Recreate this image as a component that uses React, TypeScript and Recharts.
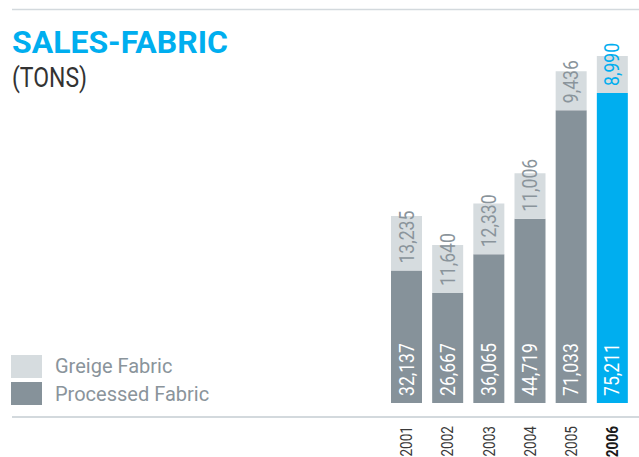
import { BarChart, Bar, XAxis, YAxis, Cell, LabelList } from "recharts";

const years = ["2001", "2002", "2003", "2004", "2005", "2006"];
const processed = [32137, 26667, 36065, 44719, 71033, 75211];
const greige = [13235, 11640, 12330, 11006, 9436, 8990];
const highlightYear = "2006";

const data = years.map((year, i) => ({
  year,
  processed: processed[i],
  greige: greige[i],
}));

const CYAN = "#00aeef";
const GREY = "#86929a";
const LIGHT = "#d6dcdf";
const LINE = "#d3d9dd";
const FONT = "Roboto, 'Open Sans', sans-serif";

const fmt = (v: number) => v.toLocaleString("en-US");

// rotated value label sitting at the bottom of its segment
function makeLabel(kind: "processed" | "greige") {
  return (props: any) => {
    const { x, y, width, height, value, index } = props;
    const hi = years[index] === highlightYear;
    const fill =
      kind === "processed" ? "#ffffff" : hi ? CYAN : "#8a949b";
    const fs = 20;
    const cx = Number(x) + Number(width) / 2;
    const by = Number(y) + Number(height) - 7;
    return (
      <text
        transform={`translate(${cx},${by}) rotate(-90) scale(0.88,1)`}
        x={0}
        y={fs * 0.355}
        fontSize={fs}
        fontFamily={FONT}
        fill={fill}
        textAnchor="start"
      >
        {fmt(Number(value))}
      </text>
    );
  };
}

function YearTick(props: any) {
  const { x, y, payload } = props;
  const hi = payload.value === highlightYear;
  const fs = 16;
  return (
    <text
      transform={`translate(${x},${Number(y) + 23}) rotate(-90) scale(0.85,1)`}
      x={0}
      y={fs * 0.355}
      fontSize={fs}
      fontFamily={FONT}
      fontWeight={hi ? 700 : 400}
      fill={hi ? "#1a1a1a" : "#3a3a3a"}
      textAnchor="end"
    >
      {payload.value}
    </text>
  );
}

export default function App() {
  return (
    <div
      style={{
        position: "absolute",
        left: 0,
        top: 0,
        width: 639,
        height: 457,
        background: "#fff",
        overflow: "hidden",
      }}
    >
      <BarChart
        width={639}
        height={457}
        data={data}
        margin={{ top: 32, right: 6, bottom: 14, left: 386 }}
      >
        <XAxis
          dataKey="year"
          axisLine={false}
          tickLine={false}
          tickSize={0}
          tickMargin={0}
          height={40}
          interval={0}
          tick={<YearTick />}
        />
        <YAxis hide domain={[0, 90000]} />
        <Bar dataKey="processed" stackId="a" barSize={31} isAnimationActive={false}>
          {data.map((d) => (
            <Cell key={d.year} fill={d.year === highlightYear ? CYAN : GREY} />
          ))}
          <LabelList dataKey="processed" content={makeLabel("processed")} />
        </Bar>
        <Bar dataKey="greige" stackId="a" barSize={31} fill={LIGHT} isAnimationActive={false}>
          <LabelList dataKey="greige" content={makeLabel("greige")} />
        </Bar>
      </BarChart>

      {/* title, rules and legend */}
      <svg
        width={639}
        height={457}
        style={{ position: "absolute", left: 0, top: 0, pointerEvents: "none" }}
      >
        <line x1={12} x2={639} y1={9.5} y2={9.5} stroke={LINE} strokeWidth={1.5} />
        <line x1={12} x2={639} y1={417} y2={417} stroke={LINE} strokeWidth={2} />
        <text
          x={12}
          y={53}
          fontFamily={FONT}
          fontWeight={700}
          fontSize={32}
          fill={CYAN}
          textLength={216}
          lengthAdjust="spacingAndGlyphs"
        >
          SALES-FABRIC
        </text>
        <text
          x={12}
          y={87}
          fontFamily={FONT}
          fontSize={28}
          fill="#333333"
          textLength={75}
          lengthAdjust="spacingAndGlyphs"
        >
          (TONS)
        </text>
        <rect x={11} y={355} width={31} height={23} fill={LIGHT} />
        <rect x={11} y={382} width={31} height={23} fill={GREY} />
        <text x={55} y={373} fontFamily={FONT} fontSize={20} fill="#8a949b">
          Greige Fabric
        </text>
        <text x={55} y={401} fontFamily={FONT} fontSize={20} fill="#8a949b">
          Processed Fabric
        </text>
      </svg>
    </div>
  );
}
